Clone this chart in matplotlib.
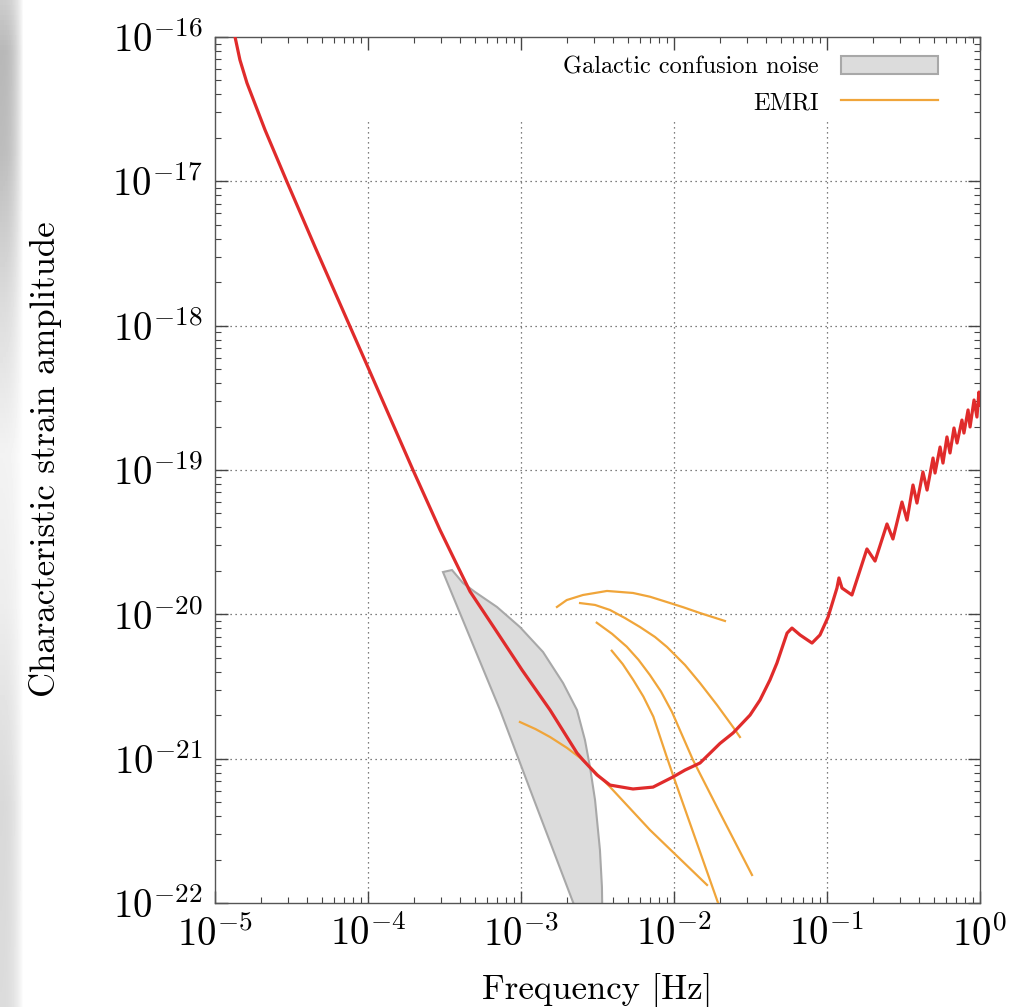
import numpy as np
import matplotlib
matplotlib.use("Agg")
import matplotlib.pyplot as plt
from matplotlib.ticker import FixedLocator, FuncFormatter, LogLocator, NullFormatter
from matplotlib.patches import Patch
from matplotlib.lines import Line2D

plt.rcParams['font.family'] = ['cmr10', 'DejaVu Serif']
plt.rcParams['mathtext.fontset'] = 'cm'
plt.rcParams['axes.formatter.use_mathtext'] = True

# ---------------- data (log10 values) ----------------
# LISA sensitivity curve (characteristic strain)
red_logf = [-4.869, -4.837, -4.791, -4.673, -4.529, -4.346, -4.118, -3.987,
            -3.706, -3.529, -3.431, -3.333, -3.183, -2.993, -2.810, -2.634, -2.595,
            -2.503, -2.418, -2.268, -2.137, -2.007, -1.928, -1.830, -1.699, -1.614,
            -1.503, -1.438, -1.373, -1.327,
            -1.261, -1.229, -1.176, -1.098, -1.046, -0.993, -0.935, -0.922, -0.902,
            -0.837, -0.739, -0.686, -0.608, -0.569, -0.510, -0.477, -0.438, -0.412,
            -0.373, -0.346, -0.307, -0.294, -0.261, -0.242, -0.216, -0.196, -0.170,
            -0.150, -0.118, -0.105, -0.078, -0.065, -0.039, -0.020, -0.007, 0.000]
red_logh = [-16.000, -16.159, -16.319, -16.644, -17.005, -17.455, -18.005, -18.320,
            -19.000, -19.416, -19.630, -19.842, -20.081, -20.386, -20.663, -20.961, -21.009,
            -21.113, -21.183, -21.210, -21.197, -21.127, -21.079, -21.030, -20.894, -20.822,
            -20.698, -20.594, -20.455, -20.337,
            -20.130, -20.095, -20.143, -20.199, -20.143, -20.019, -19.818, -19.748, -19.818,
            -19.866, -19.547, -19.631, -19.374, -19.478, -19.222, -19.347, -19.104, -19.229,
            -19.014, -19.139, -18.917, -19.021, -18.841, -18.952, -18.771, -18.882, -18.709,
            -18.813, -18.654, -18.744, -18.584, -18.702, -18.515, -18.633, -18.460, -18.550]

# Galactic confusion noise region (outline)
gal_logf = [-3.510, -3.451, -3.379, -3.301, -3.157, -3.007, -2.856, -2.725, -2.634,
            -2.582, -2.549, -2.516, -2.484, -2.471, -2.468, -2.640, -2.922, -3.137]
gal_logh = [-19.707, -19.693, -19.783, -19.845, -19.949, -20.088, -20.261, -20.476, -20.663,
            -20.871, -21.058, -21.287, -21.633, -21.889, -22.100, -22.050, -21.266, -20.663]

# EMRI tracks
emri_logf = [
    [-2.765, -2.701, -2.595, -2.438, -2.268, -2.157, -2.046, -1.939, -1.830, -1.667],
    [-2.614, -2.516, -2.418, -2.320, -2.222, -2.124, -2.046, -1.928, -1.830, -1.719,
     -1.614, -1.569],
    [-2.505, -2.405, -2.309, -2.232, -2.157, -2.085, -2.013, -1.876, -1.699, -1.490],
    [-2.407, -2.335, -2.266, -2.200, -2.135, -2.048, -2.007, -1.712],
    [-3.007, -2.905, -2.810, -2.700, -2.595, -2.418, -2.157, -1.784],
]
emri_logh = [
    [-19.949, -19.901, -19.866, -19.838, -19.852, -19.878, -19.915, -19.951, -19.991, -20.046],
    [-19.922, -19.935, -19.970, -20.026, -20.088, -20.157, -20.226, -20.351, -20.476, -20.628,
     -20.781, -20.850],
    [-20.058, -20.135, -20.224, -20.315, -20.421, -20.535, -20.677, -21.009, -21.377, -21.806],
    [-20.252, -20.345, -20.455, -20.570, -20.709, -20.986, -21.113, -22.000],
    [-20.746, -20.795, -20.850, -20.925, -21.009, -21.196, -21.494, -21.875],
]

x_decades = [-5, -4, -3, -2, -1, 0]
y_decades = [-22, -21, -20, -19, -18, -17, -16]

# ---------------- figure ----------------
W, H = 1025, 1007
fig = plt.figure(figsize=(W / 100, H / 100), dpi=100)

# grey shadow strip at the left edge
sax = fig.add_axes([0, 0, 24 / W, 1])
vert = np.interp(np.linspace(0, 1, 200), [0, 0.05, 0.15, 0.3, 0.45, 0.6, 0.8, 1.0],
                 [0.80, 0.72, 0.74, 0.86, 0.95, 0.93, 0.85, 0.86])
horiz = np.linspace(0.0, 1.0, 24)
img = vert[:, None] + (1 - vert[:, None]) * horiz[None, :] ** 2.5
sax.imshow(img, cmap='gray', vmin=0, vmax=1, aspect='auto', extent=[0, 1, 0, 1],
           origin='upper')
sax.axis('off')

ax = fig.add_axes([215 / W, 1 - 903 / H, 765 / W, 866 / H])
ax.set_xscale('log')
ax.set_yscale('log')
ax.set_xlim(1e-5, 1e0)
ax.set_ylim(1e-22, 1e-16)

# grid (vertical lines stop below the key area)
grid_kw = dict(color='#555555', linestyle=(0, (1, 3)), linewidth=0.9, zorder=1)
for d in y_decades[1:-1]:
    ax.axhline(10.0 ** d, **grid_kw)
for d in x_decades[1:-1]:
    ax.vlines(10.0 ** d, 1e-22, 10 ** -16.56, **grid_kw)

gal_color = '#dcdcdc'
gal_edge = '#a8a8a8'
ax.fill(10.0 ** np.array(gal_logf), 10.0 ** np.array(gal_logh), facecolor=gal_color,
        edgecolor=gal_edge, linewidth=1.5, zorder=2)

emri_color = '#f0a53a'
for lf, lh in zip(emri_logf, emri_logh):
    ax.plot(10.0 ** np.array(lf), 10.0 ** np.array(lh), color=emri_color, lw=1.6, zorder=3,
            solid_joinstyle='round')

ax.plot(10.0 ** np.array(red_logf), 10.0 ** np.array(red_logh), color='#e02b2b', lw=2.3,
        zorder=4, solid_joinstyle='round')

# ticks
fmt = FuncFormatter(lambda v, p: r'$10^{%d}$' % int(round(np.log10(v))))
ax.xaxis.set_major_locator(FixedLocator([10.0 ** d for d in x_decades]))
ax.yaxis.set_major_locator(FixedLocator([10.0 ** d for d in y_decades]))
ax.xaxis.set_major_formatter(fmt)
ax.yaxis.set_major_formatter(fmt)
ax.xaxis.set_minor_locator(LogLocator(base=10, subs=np.arange(2, 10), numticks=20))
ax.yaxis.set_minor_locator(LogLocator(base=10, subs=np.arange(2, 10), numticks=20))
ax.xaxis.set_minor_formatter(NullFormatter())
ax.yaxis.set_minor_formatter(NullFormatter())
ax.tick_params(which='both', direction='in', top=True, right=True, color='#444444')
ax.tick_params(which='major', length=9, width=1.0, labelsize=28, pad=9)
ax.tick_params(which='minor', length=4.5, width=0.8)
for s in ax.spines.values():
    s.set_color('#555555')
    s.set_linewidth(1.0)

ax.set_xlabel('Frequency [Hz]', fontsize=25, labelpad=14)
ax.set_ylabel('Characteristic strain amplitude', fontsize=25)
ax.yaxis.set_label_coords(-0.2, 0.513)

handles = [Patch(facecolor=gal_color, edgecolor=gal_edge, linewidth=1.5),
           Line2D([], [], color=emri_color, lw=1.6)]
ax.legend(handles, ['Galactic confusion noise', 'EMRI'], loc='upper right',
          bbox_to_anchor=(0.945, 0.978), frameon=False, markerfirst=False,
          fontsize=17.5, handlelength=4.0, handleheight=0.74, handletextpad=0.9,
          labelspacing=0.55, borderpad=0, borderaxespad=0)

fig.savefig('out.png', dpi=100)
